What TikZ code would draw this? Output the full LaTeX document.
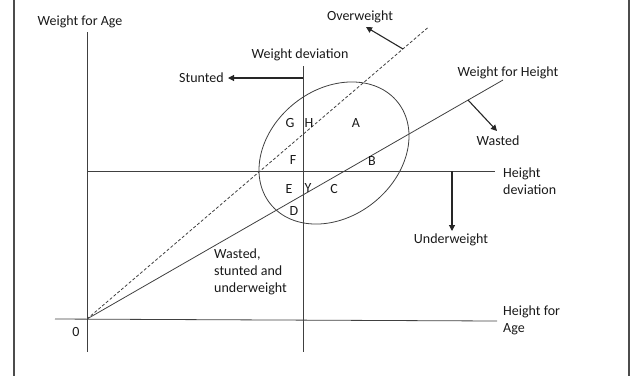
\documentclass[tikz,border=0pt]{standalone}
\usepackage{fontspec}
\setmainfont{Carlito}
\usetikzlibrary{arrows.meta,shapes.geometric}
\begin{document}
\begin{tikzpicture}[x=1pt,y=-1pt,
  ln/.style={draw=black!75,line width=0.8pt},
  arr/.style={draw=black!85,line width=1.1pt,-{Triangle[width=6pt,length=6pt]}},
  lbl/.style={inner sep=0pt,text=black!90,font=\fontsize{14}{16.8}\selectfont},
  lft/.style={lbl,anchor=west,align=left},
  frame/.style={draw=black!70,line width=1.4pt}]
\useasboundingbox (0,0) rectangle (631,376);
% frame
\coordinate (fLT) at (14,0); \coordinate (fLB) at (14,376);
\coordinate (fRT) at (629,0); \coordinate (fRB) at (629,376);
\draw[frame] (fLT) -- (fLB);
\draw[frame] (fRT) -- (fRB);
% coordinates
\coordinate (O) at (87,319);
\coordinate (aTop) at (87,32);
\coordinate (aBot) at (87,352);
\coordinate (hL) at (55,319);
\coordinate (hR) at (497,321);
\coordinate (wdTop) at (303,66);
\coordinate (wdBot) at (303,352);
\coordinate (hdL) at (87,171);
\coordinate (hdR) at (495,171);
\coordinate (dEnd) at (428,27.5);
\coordinate (whEnd) at (503,80);
\coordinate (owS) at (403,49);
\coordinate (owE) at (366,27);
\coordinate (waS) at (468,100);
\coordinate (waE) at (497,131);
\coordinate (uwS) at (452,171);
\coordinate (uwE) at (452,231);
\coordinate (stS) at (303,78);
\coordinate (stE) at (228,78);
% axes and lines
\draw[ln] (aTop) -- (aBot);
\draw[ln] (hL) -- (hR);
\draw[ln] (wdTop) -- (wdBot);
\draw[ln] (hdL) -- (hdR);
\draw[ln,dashed,dash pattern=on 3pt off 2pt] (O) -- (dEnd);
\draw[ln] (O) -- (whEnd);
\node[ellipse,ln,minimum width=163pt,minimum height=127pt,rotate=38.6,inner sep=0pt] (ell) at (334,153) {};
% arrows
\draw[arr] (owS) -- (owE);
\draw[arr] (waS) -- (waE);
\draw[arr] (uwS) -- (uwE);
\draw[arr] (stS) -- (stE);
% labels
\node[lbl] (tWA) at (80,22) {Weight for Age};
\node[lbl] (tWD) at (300,55) {Weight deviation};
\node[lbl,anchor=east] (tSt) at (224,78) {Stunted};
\node[lbl] (tOW) at (360,17) {Overweight};
\node[lbl] (tWH) at (508,73) {Weight for Height};
\node[lbl] (tWa) at (498,141) {Wasted};
\node[lbl] (tUW) at (451,240) {Underweight};
\node[lft] (tHD) at (503,181) {Height\\deviation};
\node[lft] (tHA) at (503,320.5) {Height for\\Age};
\node[lft] (tWSU) at (214,272) {\baselineskip=16pt Wasted,\\stunted and\\underweight};
\node[lbl] (t0) at (76,332) {0};
\node[lbl] (lG) at (290,123) {G};
\node[lbl] (lH) at (309,123) {H};
\node[lbl] (lA) at (356,123) {A};
\node[lbl] (lF) at (293,160) {F};
\node[lbl] (lB) at (372,161) {B};
\node[lbl] (lE) at (289,189) {E};
\node[lbl] (lY) at (308,188) {Y};
\node[lbl] (lC) at (334,189) {C};
\node[lbl] (lD) at (294,211) {D};
\end{tikzpicture}
\end{document}
